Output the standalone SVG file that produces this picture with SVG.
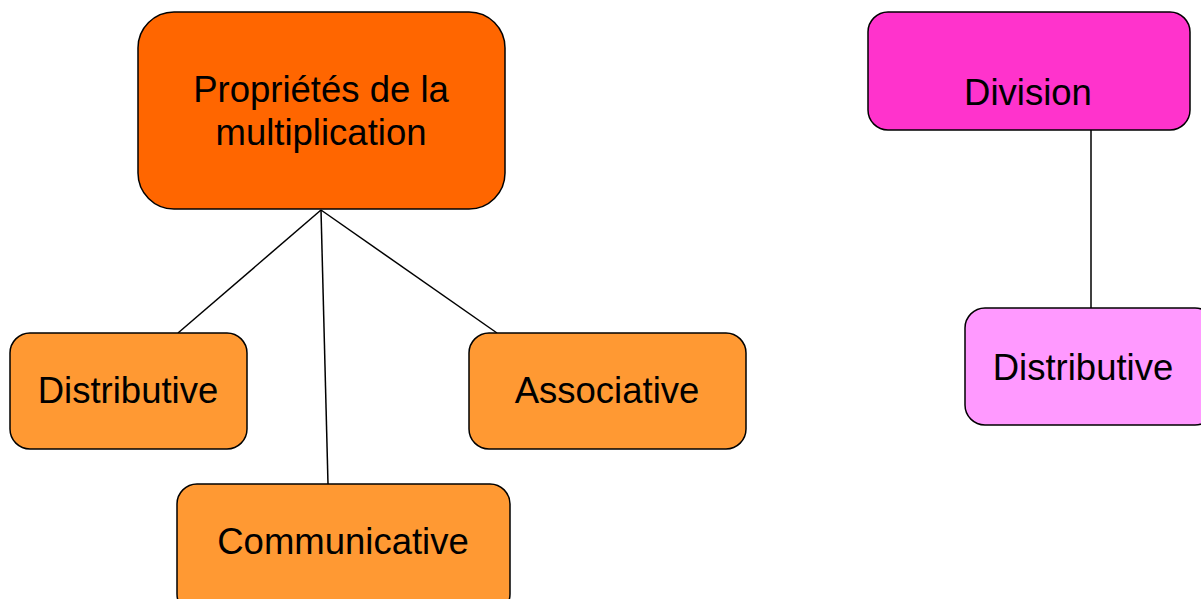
<svg xmlns="http://www.w3.org/2000/svg" width="1201" height="599" viewBox="0 0 1201 599">
<style>
.box{stroke:#000;stroke-width:1.5}
.t{font-family:"Liberation Sans",Arial,sans-serif;font-size:36.5px;fill:#000;text-anchor:middle}
.c{stroke:#000;stroke-width:1.5;fill:none}
</style>
<rect width="1201" height="599" fill="#fff"/>
<g id="connectors">
<line class="c" x1="321" y1="210" x2="178" y2="333"/>
<line class="c" x1="321" y1="210" x2="328" y2="484"/>
<line class="c" x1="321" y1="210" x2="497" y2="333"/>
<line class="c" x1="1091" y1="130" x2="1091" y2="308"/>
</g>
<g id="n-main">
<rect class="box" x="138" y="12" width="367" height="197" rx="36" fill="#FF6600"/>
<text class="t" x="321" y="102">Propriétés de la</text>
<text class="t" x="321" y="145">multiplication</text>
</g>
<g id="n-distributive">
<rect class="box" x="10" y="333" width="237" height="116" rx="20" fill="#FF9933"/>
<text class="t" x="128" y="403">Distributive</text>
</g>
<g id="n-associative">
<rect class="box" x="469" y="333" width="277" height="116" rx="20" fill="#FF9933"/>
<text class="t" x="607" y="403">Associative</text>
</g>
<g id="n-communicative">
<rect class="box" x="177" y="484" width="333" height="130" rx="20" fill="#FF9933"/>
<text class="t" x="343" y="554">Communicative</text>
</g>
<g id="n-division">
<rect class="box" x="868" y="12" width="322" height="118" rx="20" fill="#FF33CC"/>
<text class="t" x="1028" y="105">Division</text>
</g>
<g id="n-distributive2">
<rect class="box" x="965" y="308" width="250" height="117" rx="20" fill="#FF99FF"/>
<text class="t" x="1083" y="380">Distributive</text>
</g>
</svg>
